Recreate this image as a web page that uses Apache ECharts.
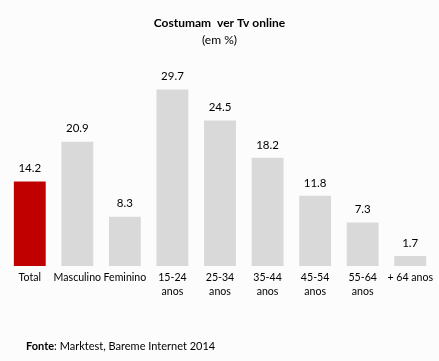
<!DOCTYPE html>
<html><head><meta charset="utf-8">
<script src="https://cdn.jsdelivr.net/npm/echarts@6/dist/echarts.min.js"></script>
<style>html,body{margin:0;padding:0;background:#fcfcfc}#c{width:439px;height:361px}</style>
</head><body><div id="c"></div>
<script>
var categories = ["Total","Masculino","Feminino","15-24\nanos","25-34\nanos","35-44\nanos","45-54\nanos","55-64\nanos","+ 64 anos"];
var values = [14.2,20.9,8.3,29.7,24.5,18.2,11.8,7.3,1.7];
var highlightIndex = 0;
var FONT = "Lato, 'Noto Sans', sans-serif";
var chart = echarts.init(document.getElementById('c'), null, {renderer:'canvas'});
chart.setOption({
  backgroundColor: '#fcfcfc',
  animation: false,
  title: [
    {text: 'Costumam  ver Tv online', left: 'center', top: 12, textStyle:{fontFamily:FONT, fontSize:12, fontWeight:'bold', color:'#000'}},
    {text: '(em %)', left: 'center', top: 29, textStyle:{fontFamily:FONT, fontSize:12, fontWeight:'normal', color:'#000'}},
    {text: '{b|Fonte}: Marktest, Bareme Internet 2014', left: 21, top: 336, textStyle:{fontFamily:FONT, fontSize:11, fontWeight:'normal', color:'#000', rich:{b:{fontFamily:FONT, fontSize:11, fontWeight:'bold', color:'#000'}}}}
  ],
  grid: {left: 6, right: 5, top: 58, bottom: 95, containLabel: false},
  xAxis: {
    type: 'category', data: categories,
    axisLine:{show:false}, axisTick:{show:false},
    axisLabel:{interval:0, margin:5, fontFamily:FONT, fontSize:10.6, color:'#000', lineHeight:14}
  },
  yAxis: {type:'value', min:0, max:35, show:false, splitLine:{show:false}},
  series: [{
    type:'bar', barCategoryGap:'33%',
    data: values.map(function(v,i){return {value:v, itemStyle:{color: i===highlightIndex ? '#c00000' : '#d9d9d9'}};}),
    label:{show:true, position:'top', distance:7, fontFamily:FONT, fontSize:11.5, color:'#000', formatter:function(p){return p.value.toFixed(1);}}
  }]
});
</script></body></html>
